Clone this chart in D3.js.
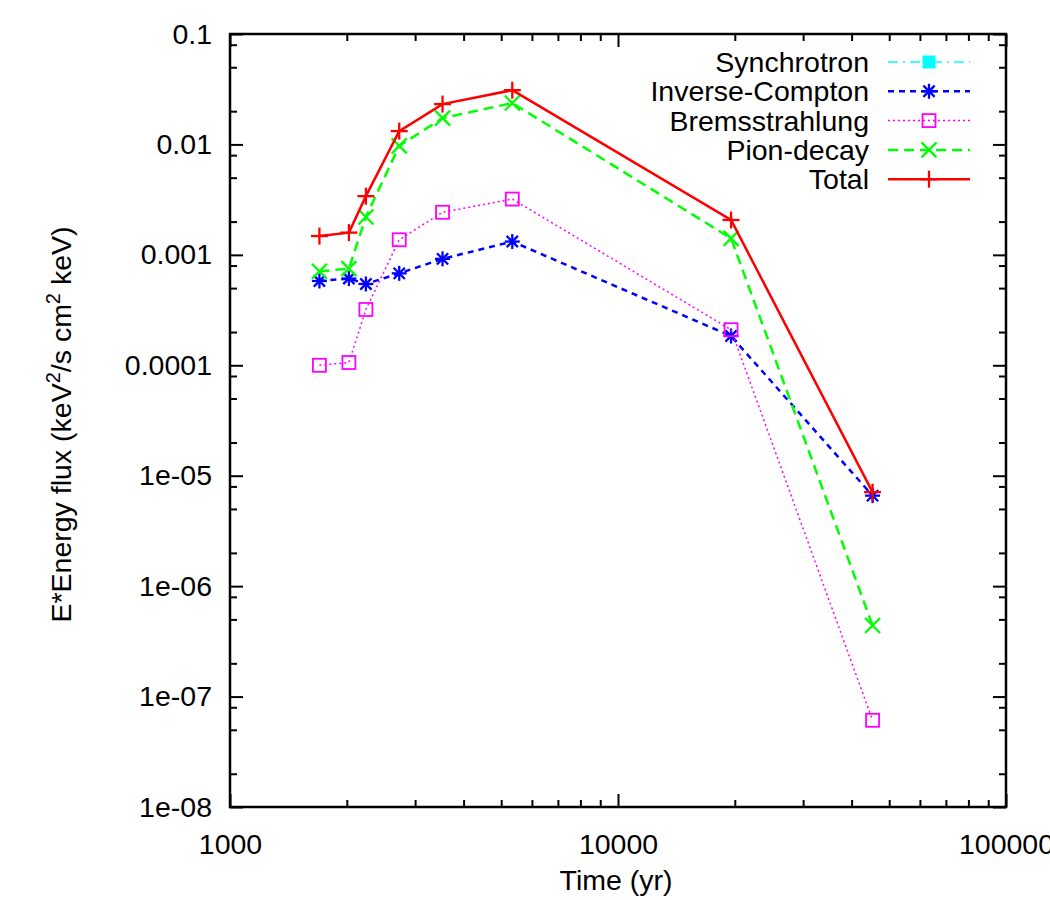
<!DOCTYPE html>
<html>
<head>
<meta charset="utf-8">
<script src="https://cdn.jsdelivr.net/npm/d3@7"></script>
<style>
  body { margin: 0; background: #fff; }
  text { font-family: "Liberation Sans", Arial, sans-serif; }
</style>
</head>
<body>
<div id="grafico"></div>
<script>
// dados
const years = [1700, 2025, 2240, 2730, 3530, 5340, 19560, 45300];
const synchrotron = [];  // fora da escala, só aparece na legenda
const inverseCompton = [5.8e-4, 6.1e-4, 5.45e-4, 6.8e-4, 9.2e-4, 1.32e-3, 1.84e-4, 6.6e-6];
const bremsstrahlung = [1.0e-4, 1.06e-4, 3.2e-4, 1.37e-3, 2.43e-3, 3.2e-3, 2.1e-4, 6.1e-8];
const pionDecay = [7.1e-4, 7.5e-4, 2.2e-3, 9.7e-3, 1.73e-2, 2.37e-2, 1.41e-3, 4.4e-7];
const total = [1.48e-3, 1.59e-3, 3.4e-3, 1.32e-2, 2.32e-2, 3.1e-2, 2.07e-3, 7.1e-6];

const xTicks = [1000, 10000, 100000];
const xTickLabels = ["1000", "10000", "100000"];
const yTicks = [0.1, 0.01, 0.001, 0.0001, 1e-5, 1e-6, 1e-7, 1e-8];
const yTickLabels = ["0.1", "0.01", "0.001", "0.0001", "1e-05", "1e-06", "1e-07", "1e-08"];

const seriesNames = ["Synchrotron", "Inverse-Compton", "Bremsstrahlung", "Pion-decay", "Total"];
const seriesColors = ["#00ffff", "#0000ff", "#ff00ff", "#00ff00", "#ff0000"];
const seriesValues = [synchrotron, inverseCompton, bremsstrahlung, pionDecay, total];

const margin = { top: 34, right: 44, bottom: 93, left: 230 };
const width = 1050 - margin.left - margin.right;
const height = 900 - margin.top - margin.bottom;

const svg = d3.select("#grafico")
  .append("svg")
    .attr("width", 1050)
    .attr("height", 900)
  .append("g")
    .attr("transform", "translate(" + margin.left + "," + margin.top + ")");

const x = d3.scaleLog().domain([1000, 100000]).range([0, width]);
const y = d3.scaleLog().domain([1e-8, 0.1]).range([height, 0]);

// ticks menores
const xMinor = [];
for (let d = 1000; d < 100000; d *= 10) {
  for (let k = 2; k <= 9; k++) xMinor.push(d * k);
}
const yMinor = [];
for (let d = 1e-8; d < 0.1; d *= 10) {
  [2, 5, 8].forEach(k => yMinor.push(d * k));
}

const fontSize = "28.5px";

function styleAxis(g) {
  g.select(".domain").remove();
  g.selectAll("line").attr("stroke", "#000").attr("stroke-width", 2);
  g.selectAll("text").attr("font-size", fontSize).attr("fill", "#000")
    .attr("font-family", "'Liberation Sans', Arial, sans-serif");
}

// eixo x (baixo e cima)
svg.append("g")
  .attr("transform", "translate(0," + height + ")")
  .call(d3.axisBottom(x).tickValues(xTicks).tickSize(-13).tickPadding(27)
    .tickFormat((d, i) => xTickLabels[i]))
  .call(styleAxis);
svg.append("g")
  .attr("transform", "translate(0," + height + ")")
  .call(d3.axisBottom(x).tickValues(xMinor).tickSize(-7).tickFormat(""))
  .call(styleAxis);
svg.append("g")
  .call(d3.axisTop(x).tickValues(xTicks).tickSize(-13).tickFormat(""))
  .call(styleAxis);
svg.append("g")
  .call(d3.axisTop(x).tickValues(xMinor).tickSize(-7).tickFormat(""))
  .call(styleAxis);

// eixo y (esquerda e direita)
svg.append("g")
  .call(d3.axisLeft(y).tickValues(yTicks).tickSize(-13).tickPadding(18)
    .tickFormat((d, i) => yTickLabels[i]))
  .call(styleAxis);
svg.append("g")
  .call(d3.axisLeft(y).tickValues(yMinor).tickSize(-7).tickFormat(""))
  .call(styleAxis);
svg.append("g")
  .attr("transform", "translate(" + width + ",0)")
  .call(d3.axisRight(y).tickValues(yTicks).tickSize(-13).tickFormat(""))
  .call(styleAxis);
svg.append("g")
  .attr("transform", "translate(" + width + ",0)")
  .call(d3.axisRight(y).tickValues(yMinor).tickSize(-7).tickFormat(""))
  .call(styleAxis);

// moldura
svg.append("rect")
  .attr("width", width)
  .attr("height", height)
  .attr("fill", "none")
  .attr("stroke", "#000")
  .attr("stroke-width", 2.5);

// rótulos dos eixos
svg.append("text")
  .attr("x", width / 2 - 2)
  .attr("y", height + 83)
  .attr("text-anchor", "middle")
  .attr("font-size", fontSize)
  .text("Time (yr)");

const ylab = svg.append("text")
  .attr("transform", "translate(-159," + (height / 2 + 4) + ") rotate(-90)")
  .attr("text-anchor", "middle")
  .attr("font-size", fontSize);
ylab.append("tspan").text("E*Energy flux (keV");
ylab.append("tspan").attr("font-size", "20px").attr("dy", -11).text("2");
ylab.append("tspan").attr("dy", 11).text("/s cm");
ylab.append("tspan").attr("font-size", "20px").attr("dy", -11).text("2");
ylab.append("tspan").attr("dy", 11).text(" keV)");

// estilos das séries
const dashes = ["10,5,2,5", "6,5", "2,3", "10,6", null];
const widths = [1.5, 2.5, 1.5, 2.5, 2.5];
const markerSize = 7.5;

function drawMarker(g, i, cx, cy) {
  const c = seriesColors[i];
  const s = markerSize;
  const sw = 2.3;
  if (i === 0) {
    g.append("rect").attr("x", cx - 6.5).attr("y", cy - 6.5).attr("width", 13).attr("height", 13)
      .attr("fill", c);
  } else if (i === 1) {
    const segs = [[-s, 0, s, 0], [0, -s, 0, s], [-s * 0.75, -s * 0.75, s * 0.75, s * 0.75], [-s * 0.75, s * 0.75, s * 0.75, -s * 0.75]];
    segs.forEach(p => g.append("line")
      .attr("x1", cx + p[0]).attr("y1", cy + p[1]).attr("x2", cx + p[2]).attr("y2", cy + p[3])
      .attr("stroke", c).attr("stroke-width", sw));
  } else if (i === 2) {
    g.append("rect").attr("x", cx - 6.5).attr("y", cy - 6.5).attr("width", 13).attr("height", 13)
      .attr("fill", "none").attr("stroke", c).attr("stroke-width", 1.8);
  } else if (i === 3) {
    const segs = [[-s, -s, s, s], [-s, s, s, -s]];
    segs.forEach(p => g.append("line")
      .attr("x1", cx + p[0]).attr("y1", cy + p[1]).attr("x2", cx + p[2]).attr("y2", cy + p[3])
      .attr("stroke", c).attr("stroke-width", sw));
  } else {
    const segs = [[-s - 1, 0, s + 1, 0], [0, -s - 1, 0, s + 1]];
    segs.forEach(p => g.append("line")
      .attr("x1", cx + p[0]).attr("y1", cy + p[1]).attr("x2", cx + p[2]).attr("y2", cy + p[3])
      .attr("stroke", c).attr("stroke-width", sw));
  }
}

svg.append("clipPath").attr("id", "clip")
  .append("rect").attr("width", width).attr("height", height);

const plot = svg.append("g").attr("clip-path", "url(#clip)");

const line = d3.line()
  .x(d => x(d[0]))
  .y(d => y(d[1]));

seriesValues.forEach((vals, i) => {
  const pts = vals.map((v, j) => [years[j], v]);
  if (!pts.length) return;
  plot.append("path")
    .datum(pts)
    .attr("d", line)
    .attr("fill", "none")
    .attr("stroke", seriesColors[i])
    .attr("stroke-width", widths[i])
    .attr("stroke-dasharray", dashes[i]);
  const mg = plot.append("g");
  pts.forEach(p => drawMarker(mg, i, x(p[0]), y(p[1])));
});

// legenda
const legend = svg.append("g");
seriesNames.forEach((name, i) => {
  const ly = 28 + i * 29.3;
  legend.append("text")
    .attr("x", 639)
    .attr("y", ly)
    .attr("dy", "0.35em")
    .attr("text-anchor", "end")
    .attr("font-size", fontSize)
    .text(name);
  legend.append("line")
    .attr("x1", 658).attr("x2", 740)
    .attr("y1", ly).attr("y2", ly)
    .attr("stroke", seriesColors[i])
    .attr("stroke-width", widths[i])
    .attr("stroke-dasharray", dashes[i]);
  drawMarker(legend, i, 699, ly);
});
</script>
</body>
</html>
